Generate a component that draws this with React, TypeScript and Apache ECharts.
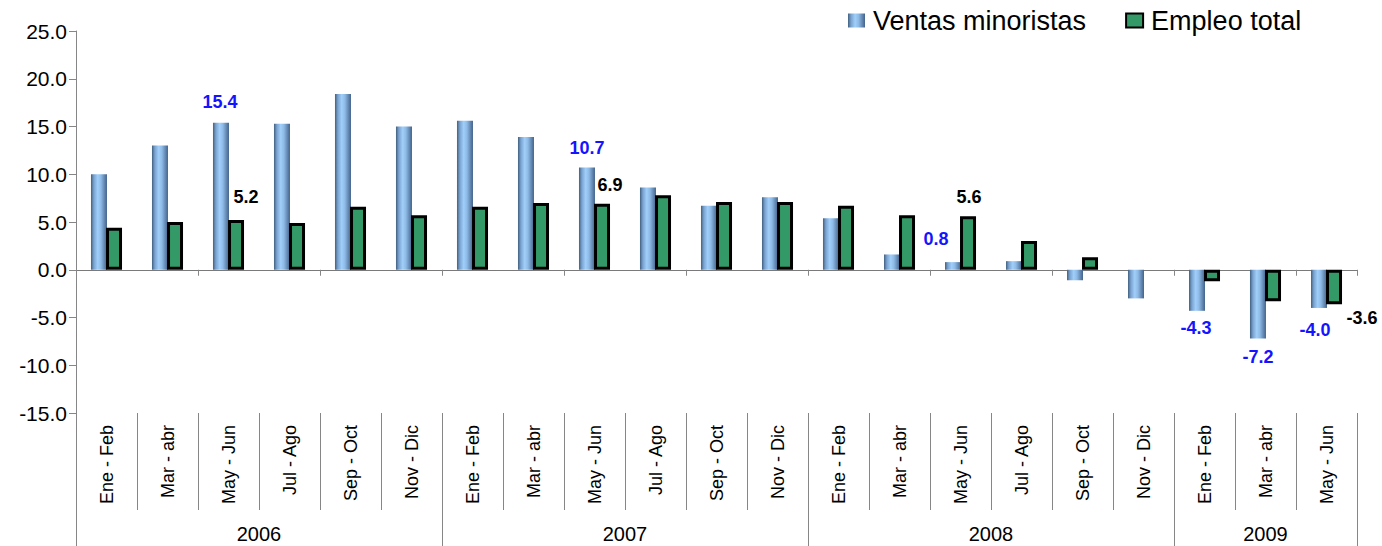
import React, { useEffect, useRef } from "react";
import * as echarts from "echarts";

// ---- Data ----
const periods = ["Ene - Feb", "Mar - abr", "May - Jun", "Jul - Ago", "Sep - Oct", "Nov - Dic"];
const years = ["2006", "2007", "2008", "2009"];
const periodsPerYear = [6, 6, 6, 3];
const categories: string[] = years.flatMap((_, i) => periods.slice(0, periodsPerYear[i]));

const ventasMinoristas = [
  10.0, 13.0, 15.4, 15.3, 18.4, 15.0,
  15.6, 13.9, 10.7, 8.6, 6.7, 7.6,
  5.4, 1.6, 0.8, 0.9, -1.1, -3.0,
  -4.3, -7.2, -4.0,
];
const empleoTotal: (number | null)[] = [
  4.4, 5.0, 5.2, 4.9, 6.6, 5.7,
  6.6, 7.0, 6.9, 7.8, 7.1, 7.1,
  6.7, 5.7, 5.6, 3.0, 1.3, null,
  -1.2, -3.3, -3.6,
];
const yMin = -15;
const yMax = 25;
const yInterval = 5;

// indices with a value label
const ventasLabeled = [2, 8, 14, 18, 19, 20];
const empleoLabeled = [2, 8, 14, 20];

// ---- Styling (label nudges, not data) ----
const ventasLabelOffset: Record<number, number[]> = {
  2: [-1, -7], 8: [0, -6], 14: [-17, -9], 18: [-1, 3], 19: [0, 4], 20: [-4, 8],
};
const empleoLabelOffset: Record<number, number[]> = {
  2: [10, -9], 8: [8, -5], 14: [1, -5], 20: [28, 0],
};

const FONT = "'Liberation Sans', Arial, sans-serif";
const GRAY = "#868686";

// year axis built on half-category slots
const yearCenters: number[] = [];
const yearBounds: number[] = [0];
{
  let pos = 0;
  periodsPerYear.forEach((n) => {
    yearCenters.push(pos + n);
    pos += 2 * n;
    yearBounds.push(pos);
  });
}
const yearSlots = Array.from({ length: yearBounds[yearBounds.length - 1] + 1 }, (_, i) => String(i));

export default function App() {
  const ref = useRef<HTMLDivElement>(null);
  useEffect(() => {
    if (!ref.current) return;
    const chart = echarts.init(ref.current, null, { renderer: "svg" });

    const blueGrad = new echarts.graphic.LinearGradient(0, 0, 1, 0, [
      { offset: 0, color: "#42607f" },
      { offset: 0.18, color: "#7aa3d0" },
      { offset: 0.42, color: "#a0cffa" },
      { offset: 0.62, color: "#8dbae6" },
      { offset: 1, color: "#44638a" },
    ]);

    const labelBase = { show: true, fontFamily: FONT, fontWeight: "bold" as const, fontSize: 18 };

    const ventasData = ventasMinoristas.map((v, i) =>
      ventasLabeled.includes(i)
        ? {
            value: v,
            label: {
              ...labelBase,
              color: "#1414ff",
              position: v >= 0 ? "top" : "bottom",
              offset: ventasLabelOffset[i],
              formatter: (p: any) => Number(p.value).toFixed(1),
            },
          }
        : v
    );
    const empleoData = empleoTotal.map((v, i) =>
      empleoLabeled.includes(i) && v !== null
        ? {
            value: v,
            label: {
              ...labelBase,
              color: "#000",
              position: v >= 0 ? "top" : "bottom",
              offset: empleoLabelOffset[i],
              formatter: (p: any) => Number(p.value).toFixed(1),
            },
          }
        : v
    );

    chart.setOption({
      animation: false,
      textStyle: { fontFamily: FONT },
      grid: { left: 76, right: 25, top: 31, bottom: 133, containLabel: false },
      legend: {
        left: 848,
        top: 7,
        padding: 0,
        itemWidth: 17,
        itemHeight: 14,
        itemGap: 39,
        icon: "rect",
        textStyle: { fontSize: 27, color: "#000", fontFamily: FONT, padding: [0, 0, 0, 3] },
        data: ["Ventas minoristas", "Empleo total"],
      },
      xAxis: [
        {
          type: "category",
          data: categories,
          position: "bottom",
          axisLine: { show: true, onZero: true, lineStyle: { color: "#7a7a7a", width: 1 } },
          axisTick: { show: true, length: 6, lineStyle: { color: GRAY } },
          axisLabel: { show: false },
          splitLine: { show: false },
        },
        {
          type: "category",
          data: categories,
          position: "bottom",
          offset: 0,
          axisLine: { show: false, onZero: false },
          axisTick: { show: true, length: 97, lineStyle: { color: GRAY } },
          axisLabel: { show: true, rotate: 90, interval: 0, margin: 12, fontSize: 18, color: "#000", fontFamily: FONT },
          splitLine: { show: false },
        },
        {
          type: "category",
          data: yearSlots,
          boundaryGap: false,
          position: "bottom",
          offset: 0,
          axisLine: { show: false, onZero: false },
          axisTick: {
            show: true,
            length: 133,
            interval: (idx: number) => yearBounds.includes(idx),
            lineStyle: { color: GRAY },
          },
          axisLabel: {
            show: true,
            interval: (idx: number) => yearCenters.includes(idx),
            formatter: (v: string) => {
              const k = yearCenters.indexOf(Number(v));
              return k >= 0 ? years[k] : "";
            },
            margin: 111,
            fontSize: 20,
            color: "#000",
            fontFamily: FONT,
          },
          splitLine: { show: false },
        },
      ],
      yAxis: {
        type: "value",
        min: yMin,
        max: yMax,
        interval: yInterval,
        axisLine: { show: true, lineStyle: { color: GRAY, width: 1 } },
        axisTick: { show: true, length: 7, lineStyle: { color: GRAY } },
        axisLabel: {
          margin: 9,
          fontSize: 21,
          color: "#000",
          fontFamily: FONT,
          formatter: (v: number) => v.toFixed(1),
        },
        splitLine: { show: false },
      },
      series: [
        {
          name: "Ventas minoristas",
          type: "bar",
          xAxisIndex: 0,
          yAxisIndex: 0,
          barWidth: 16,
          barGap: "-6%",
          data: ventasData,
          itemStyle: { color: blueGrad },
        },
        {
          name: "Empleo total",
          type: "bar",
          xAxisIndex: 0,
          yAxisIndex: 0,
          barWidth: 16,
          barGap: "-6%",
          data: empleoData,
          itemStyle: { color: "#339966", borderColor: "#000", borderWidth: 3 },
        },
      ],
    });
    return () => chart.dispose();
  }, []);
  return (
    <div
      ref={ref}
      style={{ position: "fixed", left: 0, top: 0, width: 1382, height: 546, background: "#fff" }}
    />
  );
}
